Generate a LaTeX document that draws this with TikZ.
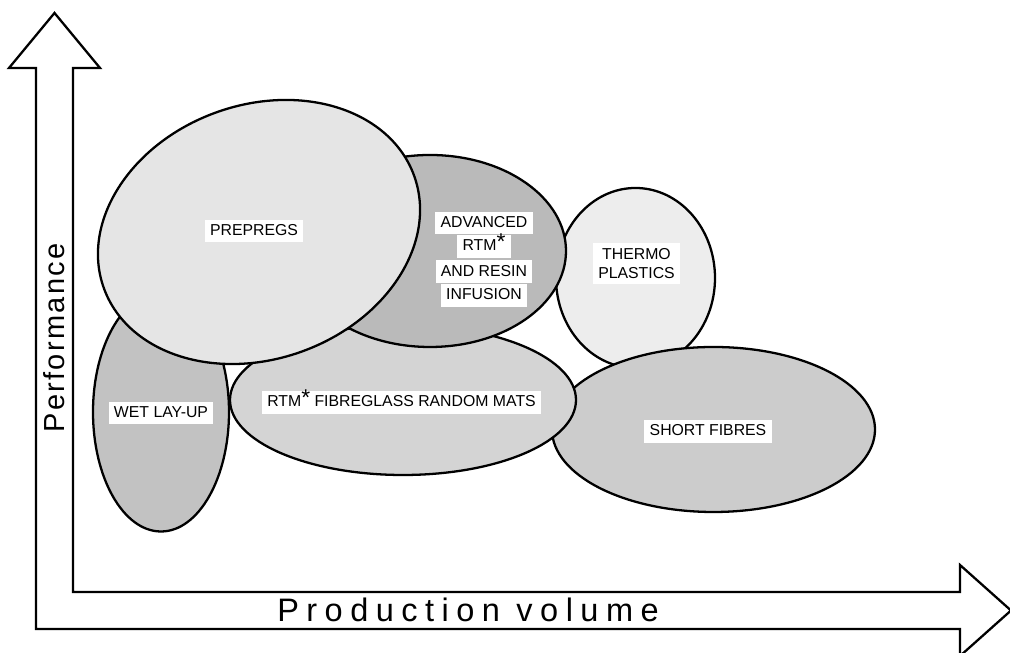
\documentclass[tikz,border=0pt]{standalone}
\usepackage{fontspec}
\setmainfont{Liberation Sans}
\newfontfamily\axisfont[LetterSpace=8]{Liberation Sans}
\newfontfamily\wideaxisfont[LetterSpace=23]{Liberation Sans}
\usetikzlibrary{positioning, shapes.geometric}

\newcommand\rtmmark{RTM\raisebox{0.8pt}{\fontsize{13}{13}\selectfont *}}

\begin{document}
\begin{tikzpicture}[
  zone/.style={ellipse, draw, line width=1.3pt, inner sep=0pt},
  tag/.style={fill=white, inner xsep=3pt, inner ysep=2pt, align=center,
              font=\fontsize{9}{11}\selectfont},
  row/.style={tag, text height=7pt, text depth=2pt},
  axis/.style={font=\axisfont\fontsize{16.5}{18}\selectfont}
]
\useasboundingbox (0,0) rectangle (20.2,13.06);

% hollow axis arrows
\draw[line width=1.3pt, fill=white]
  (0.72,0.48) -- (0.72,11.70) -- (0.18,11.70) -- (1.09,12.80) -- (2.00,11.70)
  -- (1.46,11.70) -- (1.46,1.22) -- (19.20,1.22) -- (19.20,1.76)
  -- (20.22,0.85) -- (19.20,-0.06) -- (19.20,0.48) -- cycle;
\node[axis, rotate=90] (perf) at (1.09,6.30) {Performance};
\node[axis, font=\wideaxisfont\fontsize{18.5}{20}\selectfont] (vol) at (9.36,0.86) {Production volume};

% process regions, back to front
\node[zone, fill=black!7, minimum width=3.18cm, minimum height=3.60cm] (thermo) at (12.71,7.50) {};
\node[zone, fill=black!20, minimum width=6.46cm, minimum height=3.30cm] (short) at (14.27,4.47) {};
\node[zone, fill=black!24, minimum width=2.72cm, minimum height=4.78cm] (wet) at (3.22,4.82) {};
\node[zone, fill=black!17, minimum width=6.92cm, minimum height=3.00cm] (rtm) at (8.06,5.06) {};
\node[zone, fill=black!27, minimum width=5.44cm, minimum height=3.84cm] (adv) at (8.60,8.04) {};
\node[zone, fill=black!10, minimum width=6.60cm, minimum height=5.08cm, rotate=20] (prepreg) at (5.18,8.42) {};

% labels
\node[row] (prepreglbl) at (5.08,8.44) {PREPREGS};
\node[row] (advlbl) at (9.68,8.60) {ADVANCED};
\node[row, below=0pt of advlbl] (advlbl2) {\rtmmark};
\node[row, below=1pt of advlbl2] (advlbl3) {AND RESIN};
\node[row, below=0pt of advlbl3] (advlbl4) {INFUSION};
\node[tag, inner ysep=3pt] (thermolbl) at (12.73,7.79) {THERMO\\PLASTICS};
\node[row] (wetlbl) at (3.22,4.80) {WET LAY-UP};
\node[row] (rtmlbl) at (8.03,5.01) {\rtmmark{} FIBREGLASS RANDOM MATS};
\node[row] (shortlbl) at (14.16,4.43) {SHORT FIBRES};
\end{tikzpicture}
\end{document}
